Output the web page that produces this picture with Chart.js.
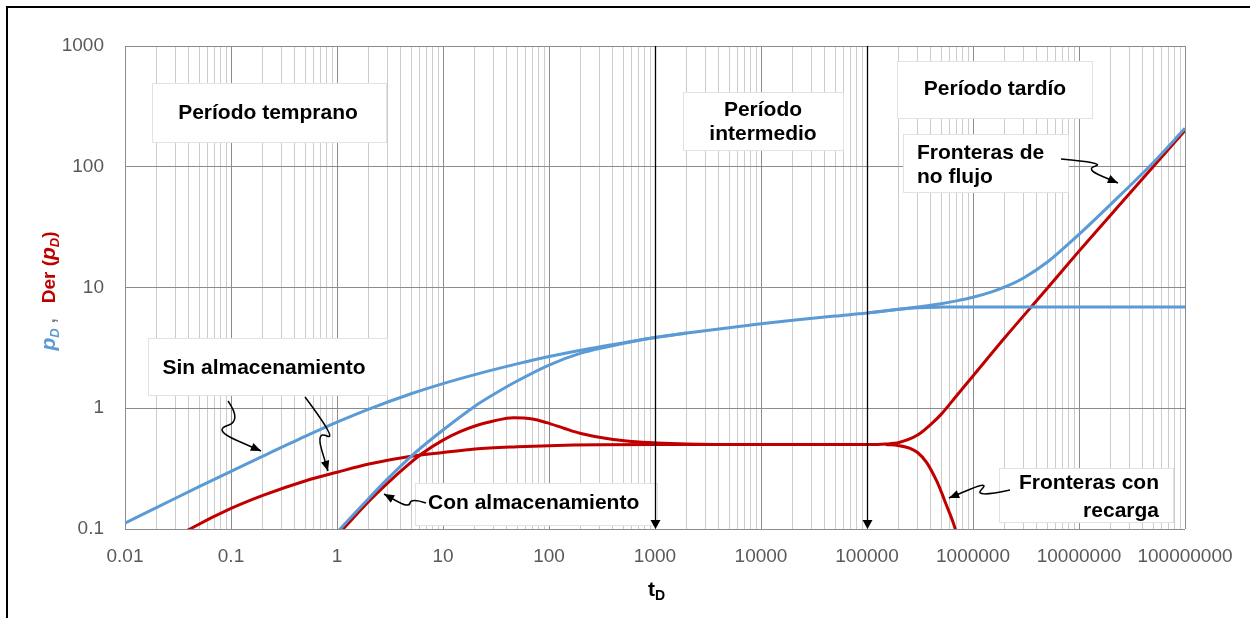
<!DOCTYPE html>
<html>
<head>
<meta charset="utf-8">
<script src="https://cdn.jsdelivr.net/npm/chart.js@4.4.1/dist/chart.umd.min.js"></script>
<style>
  html, body { margin: 0; padding: 0; background: #ffffff; }
  #wrap { width: 1250px; height: 618px; position: relative; }
</style>
</head>
<body>
<div id="wrap"><canvas id="typeCurveChart" width="1250" height="618"></canvas></div>
<script>
// Axis decades and their labels
let xDecades = [0.01, 0.1, 1, 10, 100, 1000, 10000, 100000, 1000000, 10000000, 100000000];
let xTickLabels = ['0.01', '0.1', '1', '10', '100', '1000', '10000', '100000', '1000000', '10000000', '100000000'];
let yDecades = [0.1, 1, 10, 100, 1000];
let yTickLabels = ['0.1', '1', '10', '100', '1000'];

// Period boundaries marked with arrows (tD)
let periodMarkers = [1000, 100000];

// pD without storage, continuing into the no-flow boundary branch
let pdNoStorageT = [0.01, 0.02, 0.05, 0.1, 0.2, 0.5, 1, 2, 5, 10, 20, 50, 100, 200, 500, 1000, 2000, 5000, 10000, 20000, 50000, 100000, 200000, 500000, 700000, 1000000, 1500000, 2000000, 3000000, 5000000, 7000000, 10000000, 20000000, 50000000, 100000000];
let pdNoStorage = [0.112, 0.151, 0.224, 0.30, 0.401, 0.584, 0.766, 0.983, 1.318, 1.60, 1.90, 2.33, 2.68, 3.02, 3.48, 3.86, 4.2, 4.65, 5.0, 5.35, 5.8, 6.15, 6.6, 7.35, 7.75, 8.3, 9.2, 10.1, 12.0, 16.2, 20.8, 27.5, 49, 108, 208];

// pD constant pressure boundary branch
let pdRechargeT = [100000, 200000, 300000, 500000, 1000000, 10000000, 100000000];
let pdRecharge = [6.15, 6.6, 6.8, 6.88, 6.9, 6.9, 6.9];

// pD with wellbore storage
let pdStorageT = [0.8, 1.07, 2, 3, 5, 10, 20, 30, 50, 100, 200, 350, 600, 1000, 2000];
let pdStorage = [0.075, 0.1, 0.18, 0.26, 0.40, 0.66, 1.04, 1.30, 1.68, 2.28, 2.86, 3.22, 3.56, 3.85, 4.2];

// Derivative without storage, continuing into the no-flow boundary branch
let derNoStorageT = [0.03, 0.041, 0.1, 0.2, 0.5, 1, 2, 5, 10, 20, 50, 100, 1000, 10000, 100000, 150000, 200000, 300000, 400000, 500000, 700000, 1000000, 2000000, 5000000, 10000000, 30000000, 100000000];
let derNoStorage = [0.085, 0.1, 0.148, 0.19, 0.25, 0.295, 0.345, 0.40, 0.43, 0.46, 0.48, 0.49, 0.5, 0.5, 0.5, 0.505, 0.52, 0.60, 0.735, 0.89, 1.27, 1.85, 3.85, 9.8, 20, 60, 200];

// Derivative constant pressure boundary branch
let derRechargeT = [150000, 200000, 255000, 300000, 366000, 454000, 500000, 550000, 680000, 800000];
let derRecharge = [0.5, 0.49, 0.466, 0.43, 0.355, 0.25, 0.205, 0.165, 0.1, 0.055];

// Derivative with wellbore storage
let derStorageT = [0.9, 1.14, 2, 3, 4.5, 6.3, 10, 14.5, 20.7, 30, 46, 70, 95, 140, 196, 280, 405, 600, 1040, 2000, 5000];
let derStorage = [0.08, 0.1, 0.17, 0.24, 0.33, 0.42, 0.545, 0.64, 0.72, 0.785, 0.835, 0.815, 0.76, 0.68, 0.62, 0.58, 0.55, 0.53, 0.515, 0.505, 0.5];

const BLUE = '#5B9BD5';
const RED = '#C00000';

function toPoints(ts, vs) {
    return ts.map((t, i) => ({ x: t, y: vs[i] }));
}

function isDecade(v, decades) {
    return decades.some(d => Math.abs(Math.log10(v) - Math.log10(d)) < 1e-6);
}

// Major decades plus 2..9 minors for the vertical grid
function buildLogTicks(decades, withMinors) {
    let ticks = [];
    decades.forEach((d, i) => {
        ticks.push({ value: d });
        if (withMinors && i < decades.length - 1) {
            for (let k = 2; k <= 9; k++) ticks.push({ value: d * k });
        }
    });
    return ticks;
}

function lineSet(ts, vs, color) {
    return {
        data: toPoints(ts, vs),
        borderColor: color,
        borderWidth: 3,
        pointRadius: 0,
        fill: false,
        cubicInterpolationMode: 'monotone'
    };
}

// Text boxes on the plot
let boxes = [
    { x: 152, y: 83, w: 234, h: 59, lines: ['Período temprano'], align: 'center', tx: 268, ty: [113] },
    { x: 683, y: 92, w: 160, h: 58, lines: ['Período', 'intermedio'], align: 'center', tx: 763, ty: [110, 134] },
    { x: 897, y: 61, w: 195, h: 57, lines: ['Período tardío'], align: 'center', tx: 995, ty: [89] },
    { x: 903, y: 134, w: 165, h: 58, lines: ['Fronteras de', 'no flujo'], align: 'left', tx: 917, ty: [153, 177] },
    { x: 148, y: 338, w: 239, h: 57, lines: ['Sin almacenamiento'], align: 'center', tx: 264, ty: [368] },
    { x: 415, y: 483, w: 242, h: 42, lines: ['Con almacenamiento'], align: 'left', tx: 428, ty: [503] },
    { x: 999, y: 468, w: 174, h: 54, lines: ['Fronteras con', 'recarga'], align: 'right', tx: 1159, ty: [483, 511] }
];

// Squiggly pointer arrows: list of points, last one is the tip
let arrows = [
    [[228, 401], [242, 421], [213, 430], [261, 451]],
    [[305, 397], [338, 441], [316, 431], [328, 471]],
    [[426, 503], [411, 498], [409, 508], [384, 494]],
    [[1061, 159], [1106, 163], [1085, 169], [1118, 183]],
    [[1010, 490], [973, 498], [990, 481], [949, 498]]
];

function drawArrowHead(ctx, from, to, size) {
    let ang = Math.atan2(to[1] - from[1], to[0] - from[0]);
    ctx.beginPath();
    ctx.moveTo(to[0], to[1]);
    ctx.lineTo(to[0] - size * Math.cos(ang - 0.4), to[1] - size * Math.sin(ang - 0.4));
    ctx.lineTo(to[0] - size * Math.cos(ang + 0.4), to[1] - size * Math.sin(ang + 0.4));
    ctx.closePath();
    ctx.fill();
}

function drawSquiggle(ctx, pts) {
    ctx.beginPath();
    ctx.moveTo(pts[0][0], pts[0][1]);
    // smooth curve through the points using midpoints
    for (let i = 1; i < pts.length - 1; i++) {
        let mx = (pts[i][0] + pts[i + 1][0]) / 2;
        let my = (pts[i][1] + pts[i + 1][1]) / 2;
        ctx.quadraticCurveTo(pts[i][0], pts[i][1], mx, my);
    }
    let last = pts[pts.length - 1];
    let prev = pts[pts.length - 2];
    ctx.lineTo(last[0], last[1]);
    ctx.stroke();
    let mid = [(prev[0] + last[0]) / 2, (prev[1] + last[1]) / 2];
    drawArrowHead(ctx, mid, last, 11);
}

// Plugin for frame, boxes, arrows and axis titles
const decorPlugin = {
    id: 'decor',
    beforeDraw(chart) {
        let ctx = chart.ctx;
        ctx.save();
        ctx.fillStyle = '#ffffff';
        ctx.fillRect(0, 0, chart.width, chart.height);
        // outer frame (top and left)
        ctx.fillStyle = '#000000';
        ctx.fillRect(6, 6, chart.width - 6, 2);
        ctx.fillRect(6, 6, 2, chart.height - 6);
        ctx.restore();
    },
    afterDatasetsDraw(chart) {
        let ctx = chart.ctx;
        let area = chart.chartArea;
        let xs = chart.scales.x;
        ctx.save();

        // text boxes
        boxes.forEach(b => {
            ctx.fillStyle = '#ffffff';
            ctx.fillRect(b.x, b.y, b.w, b.h);
            ctx.strokeStyle = '#e2e2e2';
            ctx.lineWidth = 1;
            ctx.strokeRect(b.x + 0.5, b.y + 0.5, b.w, b.h);
            ctx.fillStyle = '#000000';
            ctx.font = "bold 21px 'Liberation Sans', Arial, sans-serif";
            ctx.textAlign = b.align;
            ctx.textBaseline = 'middle';
            b.lines.forEach((t, i) => ctx.fillText(t, b.tx, b.ty[i]));
        });

        // pointer arrows
        ctx.strokeStyle = '#000000';
        ctx.fillStyle = '#000000';
        ctx.lineWidth = 1.5;
        arrows.forEach(a => drawSquiggle(ctx, a));

        // period boundary lines with arrowheads
        periodMarkers.forEach(t => {
            let px = Math.round(xs.getPixelForValue(t)) + 0.5;
            ctx.lineWidth = 1.3;
            ctx.beginPath();
            ctx.moveTo(px, area.top);
            ctx.lineTo(px, area.bottom - 6);
            ctx.stroke();
            ctx.beginPath();
            ctx.moveTo(px - 5, area.bottom - 9);
            ctx.lineTo(px + 5, area.bottom - 9);
            ctx.lineTo(px, area.bottom);
            ctx.closePath();
            ctx.fill();
        });

        // x axis title: tD
        ctx.fillStyle = '#000000';
        ctx.textAlign = 'left';
        ctx.textBaseline = 'alphabetic';
        ctx.font = "bold 21px 'Liberation Sans', Arial, sans-serif";
        ctx.fillText('t', 648, 596);
        ctx.font = "bold 14px 'Liberation Sans', Arial, sans-serif";
        ctx.fillText('D', 655, 600);

        // y axis title: pD ,  Der (pD)
        ctx.translate(55, 291);
        ctx.rotate(-Math.PI / 2);
        let parts = [
            { t: 'p', f: "italic bold 21px 'Liberation Sans', Arial, sans-serif", c: BLUE, dy: 0 },
            { t: 'D', f: "italic bold 13px 'Liberation Sans', Arial, sans-serif", c: BLUE, dy: 4 },
            { t: ' ,   ', f: "bold 18px 'Liberation Sans', Arial, sans-serif", c: '#7f7f7f', dy: 0 },
            { t: 'Der (', f: "bold 19px 'Liberation Sans', Arial, sans-serif", c: RED, dy: 0 },
            { t: 'p', f: "italic bold 21px 'Liberation Sans', Arial, sans-serif", c: RED, dy: 0 },
            { t: 'D', f: "italic bold 13px 'Liberation Sans', Arial, sans-serif", c: RED, dy: 4 },
            { t: ')', f: "bold 19px 'Liberation Sans', Arial, sans-serif", c: RED, dy: 0 }
        ];
        let total = 0;
        parts.forEach(p => { ctx.font = p.f; total += ctx.measureText(p.t).width; });
        let cx = -total / 2;
        parts.forEach(p => {
            ctx.font = p.f;
            ctx.fillStyle = p.c;
            ctx.fillText(p.t, cx, p.dy);
            cx += ctx.measureText(p.t).width;
        });
        ctx.restore();
    }
};

const ctxCurve = document.getElementById('typeCurveChart').getContext('2d');
const typeCurveChart = new Chart(ctxCurve, {
    type: 'line',
    data: {
        datasets: [
            lineSet(pdNoStorageT, pdNoStorage, BLUE),
            lineSet(pdRechargeT, pdRecharge, BLUE),
            lineSet(pdStorageT, pdStorage, BLUE),
            lineSet(derNoStorageT, derNoStorage, RED),
            lineSet(derRechargeT, derRecharge, RED),
            lineSet(derStorageT, derStorage, RED)
        ]
    },
    options: {
        responsive: false,
        animation: false,
        layout: { padding: { left: 0, top: 46, right: 65, bottom: 0 } },
        plugins: {
            legend: { display: false },
            tooltip: { enabled: false }
        },
        scales: {
            x: {
                type: 'logarithmic',
                min: 0.01,
                max: 100000000,
                afterBuildTicks: scale => { scale.ticks = buildLogTicks(xDecades, true); },
                afterFit: scale => { scale.height = 89; },
                border: { display: false },
                grid: {
                    drawTicks: false,
                    color: c => isDecade(c.tick.value, xDecades) ? '#8c8c8c' : '#cccccc',
                    lineWidth: 1
                },
                ticks: {
                    autoSkip: false,
                    maxRotation: 0,
                    padding: 16,
                    color: '#595959',
                    font: { family: "'Liberation Sans', Arial, sans-serif", size: 19 },
                    callback: function(value) {
                        let idx = xDecades.findIndex(d => Math.abs(Math.log10(value) - Math.log10(d)) < 1e-6);
                        return idx >= 0 ? xTickLabels[idx] : '';
                    }
                }
            },
            y: {
                type: 'logarithmic',
                min: 0.1,
                max: 1000,
                afterBuildTicks: scale => { scale.ticks = buildLogTicks(yDecades, false); },
                afterFit: scale => { scale.width = 125; },
                border: { display: false },
                grid: {
                    drawTicks: false,
                    color: '#8c8c8c',
                    lineWidth: 1
                },
                ticks: {
                    autoSkip: false,
                    padding: 21,
                    color: '#595959',
                    font: { family: "'Liberation Sans', Arial, sans-serif", size: 19 },
                    callback: function(value) {
                        let idx = yDecades.findIndex(d => Math.abs(Math.log10(value) - Math.log10(d)) < 1e-6);
                        return idx >= 0 ? yTickLabels[idx] : '';
                    }
                }
            }
        }
    },
    plugins: [decorPlugin]
});
</script>
</body>
</html>
